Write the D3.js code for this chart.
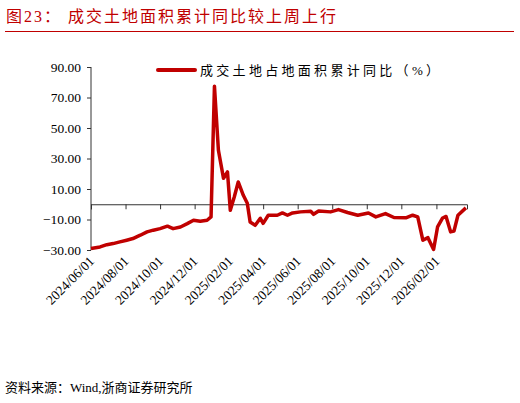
<!DOCTYPE html>
<html>
<head>
<meta charset="UTF-8">
<script src="https://cdn.jsdelivr.net/npm/d3@7"></script>
<style>
  body { margin: 0; background: #fff; }
  text { font-family: "Liberation Serif", "Noto Sans CJK SC", serif; }
  .cjk { font-family: "Liberation Serif", "Noto Sans CJK SC", sans-serif; }
</style>
</head>
<body>
<svg id="chart" width="520" height="403"></svg>
<script>
var dates = ["2024-06-01","2024-06-17","2024-06-29","2024-07-10","2024-07-22","2024-08-03","2024-08-14","2024-08-27",
  "2024-09-08","2024-09-19","2024-10-01","2024-10-14","2024-10-24","2024-11-06","2024-11-18","2024-11-29","2024-12-11",
  "2024-12-23","2024-12-30","2025-01-05","2025-01-12","2025-01-21","2025-01-28","2025-02-02","2025-02-09","2025-02-16",
  "2025-02-25","2025-03-04","2025-03-09","2025-03-18","2025-03-27","2025-04-01","2025-04-10","2025-04-26","2025-05-05",
  "2025-05-14","2025-05-23","2025-06-06","2025-06-24","2025-06-29","2025-07-08","2025-07-29","2025-08-12","2025-08-28",
  "2025-09-15","2025-10-04","2025-10-17","2025-11-03","2025-11-18","2025-12-09","2025-12-21","2025-12-30","2026-01-08",
  "2026-01-17","2026-01-27","2026-02-03","2026-02-12","2026-02-18","2026-02-26","2026-03-04","2026-03-11","2026-03-25"];
var values = [-29,-28,-26.5,-25.8,-24.7,-23.6,-22.5,-20.3,
  -18.1,-17,-16,-14.4,-16,-14.9,-12.7,-10.5,-11.2,
  -10.5,-8.3,77.4,35.4,17,21.2,-4,4.8,14.6,
  5.9,0.6,-11.6,-13.8,-9.2,-12.5,-7.2,-7.2,-5.7,
  -7.2,-5.7,-5,-4.6,-6.6,-4.4,-5,-3.5,-5.4,
  -7.2,-5.7,-8.3,-6.1,-8.7,-8.9,-7.2,-8.3,-23.6,
  -21.9,-29.7,-14.9,-9,-8,-18.1,-17.6,-7.2,-2.4];
var yTicks = [90, 70, 50, 30, 10, -10, -30];
var tickDates = ["2024-06-01","2024-08-01","2024-10-01","2024-12-01","2025-02-01","2025-04-01",
  "2025-06-01","2025-08-01","2025-10-01","2025-12-01","2026-02-01"];
var red = "#c00000";

var parse = d3.timeParse("%Y-%m-%d");
var fmt = d3.timeFormat("%Y/%m/%d");
var data = dates.map(function(d, i) { return {date: parse(d), value: values[i]}; });

var svg = d3.select("#chart");
var x = d3.scaleTime().domain([parse("2024-06-01"), parse("2026-03-27")]).range([91, 467]);
var y = d3.scaleLinear().domain([-30, 90]).range([250, 67]);

// title
svg.append("text").attr("x", 6).attr("y", 22).attr("fill", red)
    .style("font-size", "16px").style("letter-spacing", "2px").attr("class", "cjk")
    .text("图23：  成交土地面积累计同比较上周上行");
svg.append("line").attr("x1", 5).attr("x2", 514).attr("y1", 31.5).attr("y2", 31.5)
    .attr("stroke", red).attr("stroke-width", 1);

// y axis
var yAxis = svg.append("g").attr("transform", "translate(91,0)")
    .call(d3.axisLeft(y).tickValues(yTicks).tickSize(4).tickFormat(d3.format(".2f")));
yAxis.selectAll("text").style("font-size", "13.5px").attr("fill", "#000").attr("dx", "-3");
yAxis.selectAll("line, path").attr("stroke", "#333");
yAxis.select("path").attr("d", "M0,67V250");

// x axis at zero
var xAxis = svg.append("g").attr("transform", "translate(0," + y(0) + ")")
    .call(d3.axisBottom(x).tickValues(tickDates.map(parse)).tickSize(5).tickFormat(""));
xAxis.selectAll("line, path").attr("stroke", "#333");

// rotated date labels below plot
svg.append("g").selectAll("text").data(tickDates).enter().append("text")
    .attr("transform", function(d) { return "translate(" + (x(parse(d)) + 4) + ",262) rotate(-45)"; })
    .attr("text-anchor", "end")
    .style("font-size", "13.5px")
    .text(function(d) { return fmt(parse(d)); });

// line
svg.append("path").datum(data)
    .attr("fill", "none").attr("stroke", red).attr("stroke-width", 3.5)
    .attr("stroke-linejoin", "round")
    .attr("d", d3.line().x(function(d) { return x(d.date); }).y(function(d) { return y(d.value); }));

// legend
svg.append("line").attr("x1", 158).attr("x2", 195).attr("y1", 70).attr("y2", 70)
    .attr("stroke", red).attr("stroke-width", 4).attr("stroke-linecap", "round");
svg.append("text").attr("x", 200).attr("y", 75).attr("class", "cjk")
    .style("font-size", "13px").style("letter-spacing", "3.3px").text("成交土地占地面积累计同比（%）");

// source
svg.append("text").attr("x", 5).attr("y", 392).attr("class", "cjk")
    .style("font-size", "13px").text("资料来源：Wind,浙商证券研究所");
</script>
</body>
</html>
